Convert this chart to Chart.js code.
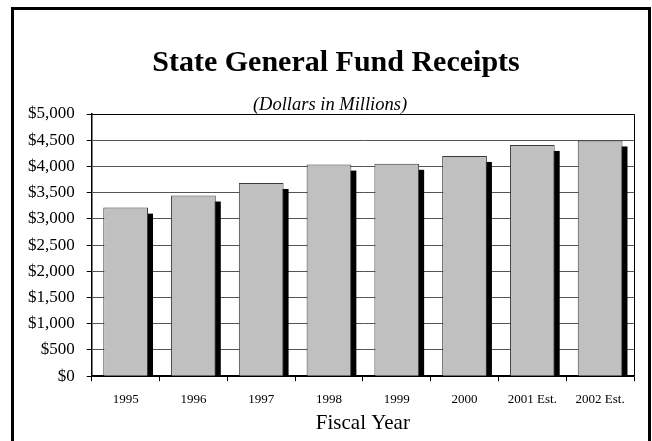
<!DOCTYPE html>
<html>
<head>
<meta charset="utf-8">
<script src="https://cdn.jsdelivr.net/npm/chart.js@4/dist/chart.umd.min.js"></script>
<style>
  html, body { margin: 0; padding: 0; background: #ffffff; }
  #wrap { position: relative; width: 652px; height: 441px; }
</style>
</head>
<body>
<div id="wrap"><canvas id="chart" width="652" height="441"></canvas></div>
<script>
// Fiscal years and general fund receipts (millions of dollars)
const fiscalYears = ['1995', '1996', '1997', '1998', '1999', '2000', '2001 Est.', '2002 Est.'];
const receipts = [3215, 3445, 3685, 4035, 4050, 4200, 4410, 4495];
const yTicks = [0, 500, 1000, 1500, 2000, 2500, 3000, 3500, 4000, 4500, 5000];
const chartTitle = 'State General Fund Receipts';
const chartSubtitle = '(Dollars in Millions)';

const SERIF = "'Liberation Serif', 'Times New Roman', serif";

// Outer frame around the whole figure
const framePlugin = {
  id: 'frame',
  beforeDraw(chart) {
    const ctx = chart.ctx;
    ctx.save();
    ctx.strokeStyle = '#000';
    ctx.lineWidth = 3;
    ctx.strokeRect(12.5, 8.5, 637, 460);
    ctx.restore();
  }
};

// Heading and units line above the plot
const headingPlugin = {
  id: 'heading',
  afterDraw(chart) {
    const ctx = chart.ctx;
    ctx.save();
    ctx.fillStyle = '#000';
    ctx.textAlign = 'center';
    ctx.textBaseline = 'middle';
    ctx.font = 'bold 30px ' + SERIF;
    ctx.fillText(chartTitle, 336, 63);
    ctx.font = 'italic 18.5px ' + SERIF;
    ctx.fillText(chartSubtitle, 330, 105);
    ctx.restore();
  }
};

// Solid black drop shadow behind each bar, taken from the bar elements' geometry
const barShadow = {
  id: 'barShadow',
  beforeDatasetDraw(chart, args) {
    const ctx = chart.ctx;
    const dx = 5, dy = 6;
    ctx.save();
    ctx.fillStyle = '#000';
    args.meta.data.forEach((bar) => {
      const { x, y, base, width } = bar.getProps(['x', 'y', 'base', 'width'], true);
      const top = y + dy;
      if (top < base) {
        ctx.fillRect(x - width / 2 + dx, top, width, base - top);
      }
    });
    ctx.restore();
  }
};

// Closed box around the plotting area
const plotBox = {
  id: 'plotBox',
  afterDraw(chart) {
    const { ctx, chartArea: a } = chart;
    ctx.save();
    ctx.strokeStyle = '#000';
    ctx.lineWidth = 1;
    ctx.beginPath();
    ctx.moveTo(a.left, Math.round(a.top) + 0.5);
    ctx.lineTo(Math.round(a.right) + 0.5, Math.round(a.top) + 0.5);
    ctx.lineTo(Math.round(a.right) + 0.5, a.bottom);
    ctx.stroke();
    ctx.restore();
  }
};

new Chart(document.getElementById('chart'), {
  type: 'bar',
  data: {
    labels: fiscalYears,
    datasets: [{
      data: receipts,
      backgroundColor: '#c0c0c0',
      borderColor: '#3a3a3a',
      borderWidth: 1,
      barPercentage: 0.66,
      categoryPercentage: 1.0,
      clip: 0
    }]
  },
  options: {
    responsive: false,
    animation: false,
    devicePixelRatio: 1,
    layout: { padding: { left: 16, right: 18, top: 114, bottom: 0 } },
    plugins: {
      legend: { display: false },
      tooltip: { enabled: false },
      title: { display: false },
      subtitle: { display: false }
    },
    scales: {
      x: {
        grid: {
          offset: true,
          drawOnChartArea: false,
          drawTicks: true,
          tickLength: 5,
          color: '#000'
        },
        border: { display: true, color: '#000', width: 1.5 },
        ticks: {
          color: '#000',
          padding: 11,
          font: { family: SERIF, size: 13 },
          maxRotation: 0
        },
        title: {
          display: true,
          text: 'Fiscal Year',
          color: '#000',
          font: { family: SERIF, size: 21 },
          padding: { top: -8, bottom: 5 }
        }
      },
      y: {
        min: 0,
        max: 5000,
        afterBuildTicks(scale) {
          scale.ticks = yTicks.map(v => ({ value: v }));
        },
        grid: {
          drawOnChartArea: true,
          drawTicks: true,
          tickLength: 5,
          color: (c) => (c.index === 0 ? '#000' : '#555'),
          tickColor: '#000'
        },
        border: { display: true, color: '#000', width: 1.5 },
        ticks: {
          color: '#000',
          padding: 12,
          font: { family: SERIF, size: 17 },
          callback: (v) => '$' + Number(v).toLocaleString('en-US')
        }
      }
    }
  },
  plugins: [framePlugin, barShadow, plotBox, headingPlugin]
});
</script>
</body>
</html>
